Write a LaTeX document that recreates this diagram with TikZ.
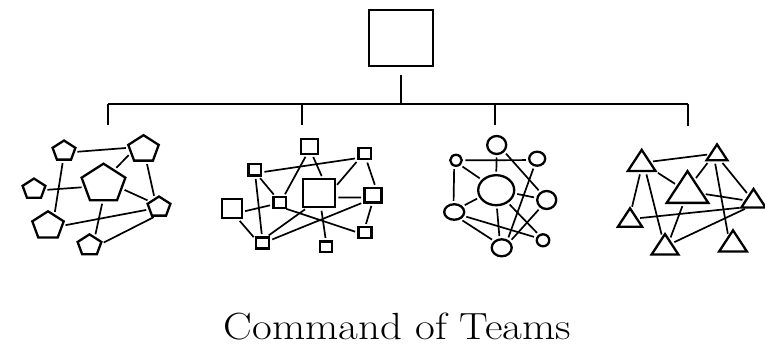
\documentclass[tikz,border=0pt]{standalone}
\usepackage{graphicx}
\usetikzlibrary{shapes.geometric}
\begin{document}
\begin{tikzpicture}[x=1pt,y=1pt,
  shp/.style={draw, line width=2.3pt, inner sep=0pt, outer sep=0pt},
  pent/.style={shp, regular polygon, regular polygon sides=5, minimum size=#1},
  tri/.style={shp, regular polygon, regular polygon sides=3, minimum size=#1},
  box/.style 2 args={shp, rectangle, minimum width=#1, minimum height=#2},
  oval/.style 2 args={shp, ellipse, minimum width=#1, minimum height=#2},
  link/.style={line width=1.7pt, shorten <=3.5pt, shorten >=3.5pt},
  tree/.style={line width=1.4pt}]
\useasboundingbox (0,0) rectangle (765,347);

% hierarchy
\node[box={64}{56}] (Top) at (401,309) {};
\coordinate (J) at (401,243);
\coordinate (H1) at (108,243);
\coordinate (H2) at (302,243);
\coordinate (H3) at (495,243);
\coordinate (H4) at (688,243);
\coordinate (D1) at (108,222);
\coordinate (D2) at (302,222);
\coordinate (D3) at (495,222);
\coordinate (D4) at (688,221);
\draw[tree, shorten <=9pt] (Top.south) -- (J);
\draw[tree] (H1) -- (H4);
\draw[tree] (H1) -- (D1);
\draw[tree] (H2) -- (D2);
\draw[tree] (H3) -- (D3);
\draw[tree] (H4) -- (D4);

% pentagons
\begin{scope}[yscale=0.88, transform shape]
\node[pent=24] (P1) at (64,222.6) {};
\node[pent=32] (P2) at (143.5,224.7) {};
\node[pent=46] (P3) at (103.5,185.3) {};
\node[pent=24] (P4) at (34,179.4) {};
\node[pent=24] (P5) at (159,159.0) {};
\node[pent=33] (P6) at (48,137.7) {};
\node[pent=25] (P7) at (89.5,115.5) {};
\draw[link] (P1.-6) -- (P2.173);
\draw[link] (P3.56) -- (P2.197);
\draw[link] (P2.-78) -- (P5.115);
\draw[link] (P1.-95) -- (P6.62);
\draw[link] (P4.-6) -- (P3.191);
\draw[link] (P3.-16) -- (P5.144);
\draw[link] (P3.-92) -- (P7.59);
\draw[link] (P6.0) -- (P5.195);
\draw[link] (P7.7) -- (P5.-103);
\end{scope}

% squares
\node[box={17}{15}] (S1) at (309.7,200.7) {};
\node[box={12.5}{11}] (S2) at (364.7,193.2) {};
\node[box={12.5}{11.5}] (S3) at (254.7,177.3) {};
\node[box={32}{28}] (S4) at (318.8,153.7) {};
\node[box={12.5}{10.5}] (S5) at (279.7,144.5) {};
\node[box={20}{19}] (S6) at (231.7,138.3) {};
\node[box={17}{14.5}] (S7) at (373,151.7) {};
\node[box={13}{11}] (S8) at (365,114.2) {};
\node[box={13}{11}] (S9) at (262.5,104) {};
\node[box={12.5}{10.5}] (S10) at (326,100.3) {};
\draw[link] (S1.-109) -- (S5.55);
\draw[link] (S1.-74) -- (S4.73);
\draw[link] (S3.-23) -- (S2.214);
\draw[link] (S2.223) -- (S4.20);
\draw[link] (S2.-75) -- (S7.68);
\draw[link] (S3.-61) -- (S5.125);
\draw[link] (S3.-84) -- (S9.94);
\draw[link] (S6.-18) -- (S5.198);
\draw[link] (S6.-59) -- (S9.154);
\draw[link] (S4.-15) -- (S7.195);
\draw[link] (S5.-58) -- (S8.180);
\draw[link] (S9.59) -- (S4.232);
\draw[link] (S9.19) -- (S7.218);
\draw[link] (S7.-95) -- (S8.90);
\draw[link] (S4.-81) -- (S10.90);

% circles
\node[oval={19}{18}] (C1) at (496.7,202) {};
\node[oval={11.5}{11}] (C2) at (456,186.7) {};
\node[oval={16}{14}] (C3) at (537.2,188.3) {};
\node[oval={36}{30}] (C4) at (496.2,156.8) {};
\node[oval={19}{18}] (C5) at (546.7,147) {};
\node[oval={20}{15.5}] (C6) at (454.2,135) {};
\node[oval={12.5}{12}] (C7) at (543,106.7) {};
\node[oval={20}{17}] (C8) at (501.7,99.2) {};
\draw[link] (C2.0) -- (C3.190);
\draw[link] (C1.-90) -- (C4.90);
\draw[link] (C1.-41) -- (C5.129);
\draw[link] (C2.-109) -- (C6.95);
\draw[link] (C2.-50) -- (C4.144);
\draw[link] (C6.35) -- (C4.203);
\draw[link] (C4.-10) -- (C5.168);
\draw[link] (C3.-112) -- (C8.52);
\draw[link] (C6.-23) -- (C7.157);
\draw[link] (C6.-51) -- (C8.137);
\draw[link] (C4.-88) -- (C8.104);
\draw[link] (C5.-129) -- (C8.36);
\draw[link] (C4.-47) -- (C7.126);

% triangles
\begin{scope}[yscale=0.88, transform shape]
\node[tri=32] (T1) at (641.7,208.0) {};
\node[tri=24] (T2) at (717,218.2) {};
\node[tri=48] (T3) at (687.5,175.8) {};
\node[tri=28] (T4) at (753.5,165.6) {};
\node[tri=28] (T5) at (630,143.6) {};
\node[tri=31] (T6) at (665,112.8) {};
\node[tri=32] (T7) at (733,116.6) {};
\draw[link] (T1.17) -- (T2.172);
\draw[link] (T1.-31) -- (T3.142);
\draw[link] (T2.219) -- (T3.64);
\draw[link] (T2.-61) -- (T4.125);
\draw[link] (T2.-112) -- (T7.119);
\draw[link] (T1.-97) -- (T5.84);
\draw[link] (T1.-64) -- (T6.103);
\draw[link] (T3.-6) -- (T4.173);
\draw[link] (T5.21) -- (T4.214);
\draw[link] (T3.-108) -- (T6.61);
\draw[link] (T6.37) -- (T4.232);
\end{scope}

% caption
\node[anchor=base, inner sep=0pt] (cap) at (397.5,7) {\scalebox{1}[0.88]{\fontsize{43}{48}\selectfont Command of Teams}};
\end{tikzpicture}
\end{document}
